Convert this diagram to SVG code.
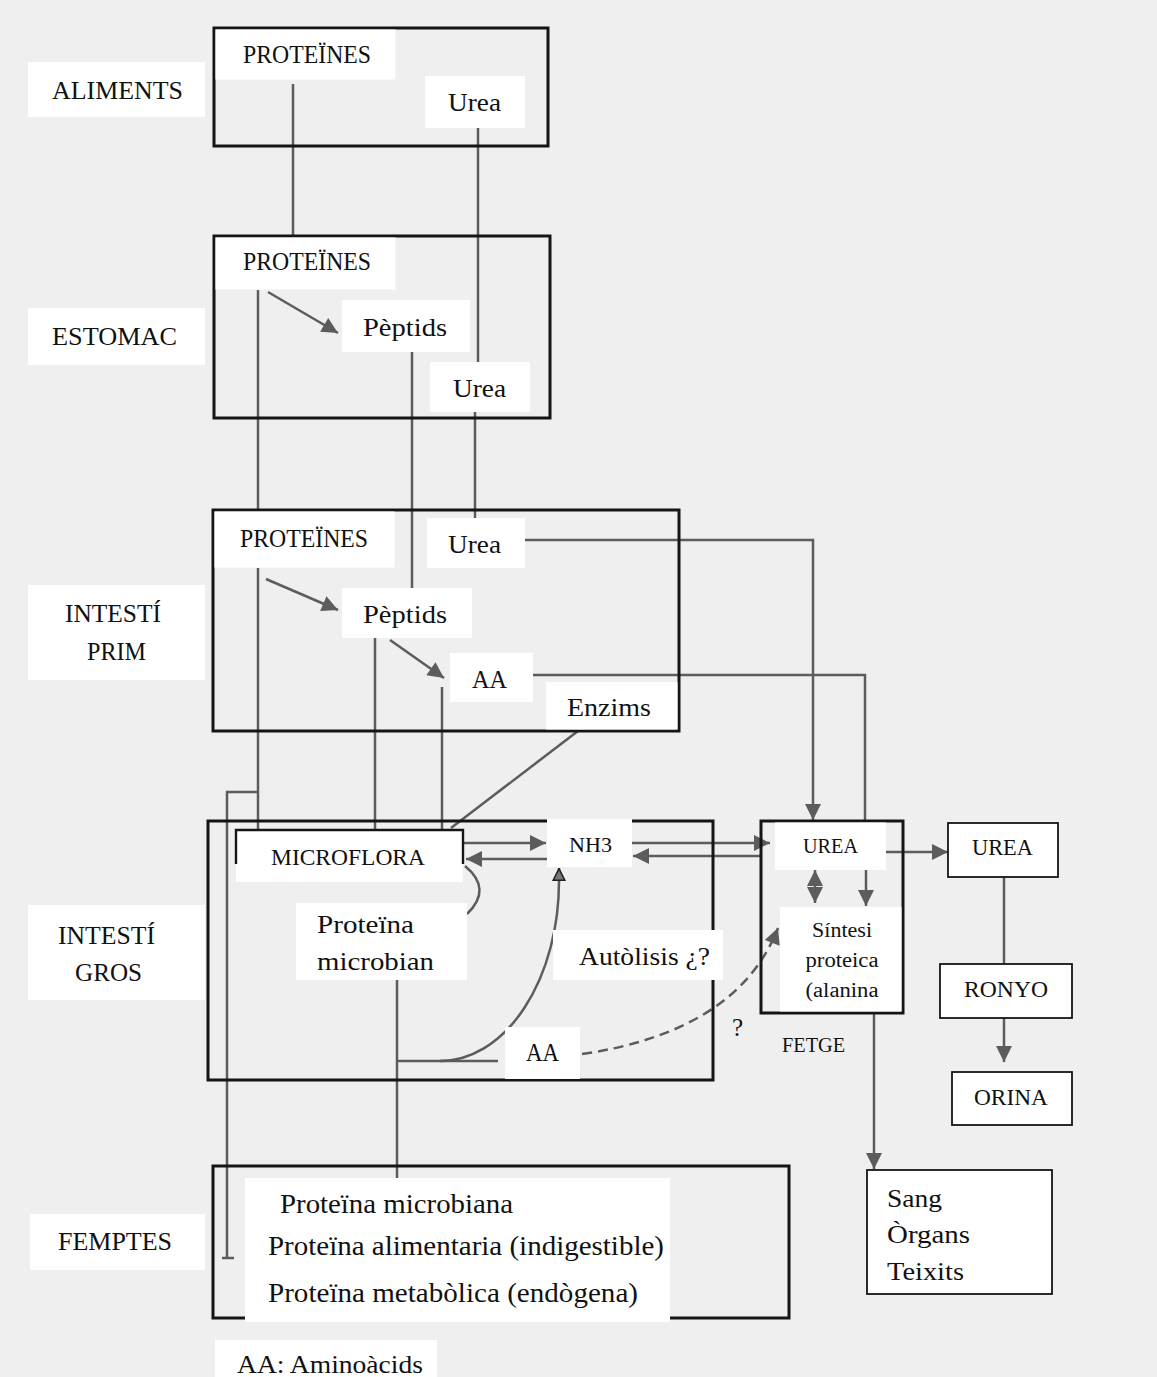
<svg xmlns="http://www.w3.org/2000/svg" width="1157" height="1377" viewBox="0 0 1157 1377">
<style>
text{font-family:"Liberation Serif","Times New Roman",serif;fill:#111;}
.box{fill:none;stroke:#151515;stroke-width:3;}
.sbox{fill:#fff;stroke:#151515;stroke-width:1.8;}
.lab{fill:#fff;}
.ln{fill:none;stroke:#5c5c5c;stroke-width:2.5;}
.arr{marker-end:url(#ah);}
.dash{stroke-dasharray:10 6;}
.s19{font-size:20px;}
.s20{font-size:21px;}
.s22{font-size:23px;}
.s24{font-size:25px;}
.s25{font-size:26px;}
.s26{font-size:27px;}
</style>
<defs>
<marker id="ah" viewBox="0 0 10 10" refX="10" refY="5" markerWidth="18" markerHeight="16" markerUnits="userSpaceOnUse" orient="auto-start-reverse"><path d="M0,0L10,5L0,10z" fill="#5c5c5c"/></marker>
<marker id="tri" viewBox="0 0 10 10" refX="10" refY="5" markerWidth="13" markerHeight="18" markerUnits="userSpaceOnUse" orient="auto"><path d="M0.5,0.5L9.5,5L0.5,9.5z" fill="#777" stroke="#222" stroke-width="1.2"/></marker>
</defs>
<rect x="0" y="0" width="1157" height="1377" fill="#efefef"/>

<g id="connectors">
<path class="ln" d="M293 84V236"/>
<path class="ln" d="M478 128V362"/>
<path class="ln arr" d="M268 292L338 333"/>
<path class="ln" d="M258 290V511"/>
<path class="ln" d="M412 352V588"/>
<path class="ln" d="M475 412V518"/>
<path class="ln arr" d="M266 579L338 610"/>
<path class="ln arr" d="M390 640L444 678"/>
<path class="ln" d="M258 568V830"/>
<path class="ln" d="M258 792H227V1258M222 1258H234"/>
<path class="ln" d="M375 638V830"/>
<path class="ln" d="M442 687V830"/>
<path class="ln arr" d="M525 540H813V820"/>
<path class="ln" d="M533 675H865V821"/>
<path class="ln" d="M578 731L451 828"/>
<path class="ln arr" d="M463 843H546"/>
<path class="ln arr" d="M547 859H466"/>
<path class="ln arr" d="M632 843H770"/>
<path class="ln arr" d="M762 856H633"/>
<path class="ln" d="M465 866Q493 889 467 914"/>
<path class="ln" d="M397 980V1178M397 1061H498"/>
<path class="ln" marker-end="url(#tri)" d="M440 1061A119 180 0 0 0 559 881V868"/>
<path class="ln dash arr" d="M582 1054C680 1040 750 1000 778 928"/>
<path class="ln arr" d="M886 852H948"/>
<path class="ln arr" marker-start="url(#ah)" d="M815 870V903"/>
<path class="ln arr" d="M866 870V906"/>
<path class="ln arr" d="M874 1013V1169"/>
<path class="ln" d="M1004 877V964"/>
<path class="ln arr" d="M1004 1018V1062"/>
</g>

<g id="aliments-label">
<rect class="lab" x="28" y="62" width="177" height="55"/>
<text class="s24" x="52" y="99" textLength="131" lengthAdjust="spacingAndGlyphs">ALIMENTS</text>
</g>
<g id="estomac-label">
<rect class="lab" x="28" y="308" width="177" height="57"/>
<text class="s24" x="52" y="345" textLength="125" lengthAdjust="spacingAndGlyphs">ESTOMAC</text>
</g>
<g id="intesti-prim-label">
<rect class="lab" x="28" y="585" width="177" height="95"/>
<text class="s24" x="65" y="622" textLength="96" lengthAdjust="spacingAndGlyphs">INTESTÍ</text>
<text class="s24" x="87" y="660" textLength="59" lengthAdjust="spacingAndGlyphs">PRIM</text>
</g>
<g id="intesti-gros-label">
<rect class="lab" x="28" y="905" width="177" height="95"/>
<text class="s24" x="58" y="944" textLength="97" lengthAdjust="spacingAndGlyphs">INTESTÍ</text>
<text class="s24" x="75" y="981" textLength="67" lengthAdjust="spacingAndGlyphs">GROS</text>
</g>
<g id="femptes-label">
<rect class="lab" x="30" y="1214" width="175" height="56"/>
<text class="s24" x="58" y="1250" textLength="114" lengthAdjust="spacingAndGlyphs">FEMPTES</text>
</g>
<g id="legend">
<rect class="lab" x="215" y="1340" width="222" height="37"/>
<text class="s25" x="237" y="1373" textLength="186" lengthAdjust="spacingAndGlyphs">AA: Aminoàcids</text>
</g>

<g id="box-aliments">
<rect class="box" x="214" y="28" width="334" height="118"/>
<rect class="lab" x="215.5" y="29.5" width="180" height="50"/>
<text class="s24" x="243" y="63" textLength="128" lengthAdjust="spacingAndGlyphs">PROTEÏNES</text>
<rect class="lab" x="425" y="76" width="100" height="52"/>
<text class="s25" x="448" y="111" textLength="53" lengthAdjust="spacingAndGlyphs">Urea</text>
</g>

<g id="box-estomac">
<rect class="box" x="214" y="236" width="336" height="182"/>
<rect class="lab" x="215.5" y="237.5" width="180" height="52"/>
<text class="s24" x="243" y="270" textLength="128" lengthAdjust="spacingAndGlyphs">PROTEÏNES</text>
<rect class="lab" x="342" y="300" width="128" height="52"/>
<text class="s25" x="363" y="336" textLength="84" lengthAdjust="spacingAndGlyphs">Pèptids</text>
<rect class="lab" x="430" y="362" width="100" height="50"/>
<text class="s25" x="453" y="397" textLength="53" lengthAdjust="spacingAndGlyphs">Urea</text>
</g>

<g id="box-intesti-prim">
<rect class="box" x="213" y="510" width="466" height="221"/>
<rect class="lab" x="214.5" y="511.5" width="180" height="56"/>
<text class="s24" x="240" y="547" textLength="128" lengthAdjust="spacingAndGlyphs">PROTEÏNES</text>
<rect class="lab" x="427" y="518" width="98" height="50"/>
<text class="s25" x="448" y="553" textLength="53" lengthAdjust="spacingAndGlyphs">Urea</text>
<rect class="lab" x="342" y="588" width="130" height="50"/>
<text class="s25" x="363" y="623" textLength="84" lengthAdjust="spacingAndGlyphs">Pèptids</text>
<rect class="lab" x="450" y="653" width="83" height="49"/>
<text class="s25" x="472" y="688" textLength="35" lengthAdjust="spacingAndGlyphs">AA</text>
<rect class="lab" x="546" y="682" width="131.5" height="47.5"/>
<text class="s25" x="567" y="716" textLength="84" lengthAdjust="spacingAndGlyphs">Enzims</text>
</g>

<g id="box-intesti-gros">
<rect class="box" x="208" y="821" width="505" height="259"/>
</g>
<g id="microflora">
<rect class="lab" x="236" y="830" width="227" height="52"/>
<path d="M236 864V830H463V864" fill="none" stroke="#151515" stroke-width="2.4"/>
<text class="s22" x="271" y="865" textLength="154" lengthAdjust="spacingAndGlyphs">MICROFLORA</text>
</g>
<g id="nh3">
<rect class="lab" x="547" y="819" width="85" height="48"/>
<text class="s20" x="569" y="852" textLength="43" lengthAdjust="spacingAndGlyphs">NH3</text>
</g>
<g id="proteina-microbian">
<rect class="lab" x="296" y="903" width="171" height="77"/>
<text class="s25" x="317" y="933" textLength="97" lengthAdjust="spacingAndGlyphs">Proteïna</text>
<text class="s25" x="317" y="970" textLength="117" lengthAdjust="spacingAndGlyphs">microbian</text>
</g>
<g id="autolisis">
<rect class="lab" x="553" y="930" width="170" height="50"/>
<text class="s25" x="579" y="965" textLength="131" lengthAdjust="spacingAndGlyphs">Autòlisis ¿?</text>
</g>
<g id="aa-gros">
<rect class="lab" x="505" y="1027" width="75" height="52"/>
<text class="s25" x="526" y="1061" textLength="33" lengthAdjust="spacingAndGlyphs">AA</text>
</g>
<g id="question">
<text class="s24" x="732" y="1036">?</text>
</g>

<g id="fetge">
<rect class="box" x="761" y="821" width="142" height="192"/>
<rect class="lab" x="775" y="822.5" width="111" height="47.5"/>
<text class="s20" x="803" y="853" textLength="55" lengthAdjust="spacingAndGlyphs">UREA</text>
<rect class="lab" x="780" y="907" width="121.5" height="104.5"/>
<text class="s19" x="842" y="937" text-anchor="middle" textLength="60" lengthAdjust="spacingAndGlyphs">Síntesi</text>
<text class="s19" x="842" y="967" text-anchor="middle" textLength="73" lengthAdjust="spacingAndGlyphs">proteica</text>
<text class="s19" x="842" y="997" text-anchor="middle" textLength="73" lengthAdjust="spacingAndGlyphs">(alanina</text>
<text class="s19" x="782" y="1052" textLength="63" lengthAdjust="spacingAndGlyphs">FETGE</text>
</g>

<g id="urea-out">
<rect class="sbox" x="948" y="823" width="110" height="54"/>
<text class="s22" x="972" y="855" textLength="61" lengthAdjust="spacingAndGlyphs">UREA</text>
</g>
<g id="ronyo">
<rect class="sbox" x="940" y="964" width="132" height="54"/>
<text class="s22" x="964" y="997" textLength="84" lengthAdjust="spacingAndGlyphs">RONYO</text>
</g>
<g id="orina">
<rect class="sbox" x="952" y="1072" width="120" height="53"/>
<text class="s22" x="974" y="1105" textLength="74" lengthAdjust="spacingAndGlyphs">ORINA</text>
</g>
<g id="sang">
<rect class="sbox" x="867" y="1170" width="185" height="124" stroke-width="2.4"/>
<text class="s25" x="887" y="1207" textLength="55" lengthAdjust="spacingAndGlyphs">Sang</text>
<text class="s25" x="887" y="1243" textLength="83" lengthAdjust="spacingAndGlyphs">Òrgans</text>
<text class="s25" x="887" y="1280" textLength="77" lengthAdjust="spacingAndGlyphs">Teixits</text>
</g>

<g id="box-femptes">
<rect class="box" x="213" y="1166" width="576" height="152"/>
<rect class="lab" x="245" y="1178" width="425" height="144"/>
<text class="s26" x="280" y="1213" textLength="233" lengthAdjust="spacingAndGlyphs">Proteïna microbiana</text>
<text class="s26" x="268" y="1255" textLength="396" lengthAdjust="spacingAndGlyphs">Proteïna alimentaria (indigestible)</text>
<text class="s26" x="268" y="1302" textLength="370" lengthAdjust="spacingAndGlyphs">Proteïna metabòlica (endògena)</text>
</g>
</svg>
